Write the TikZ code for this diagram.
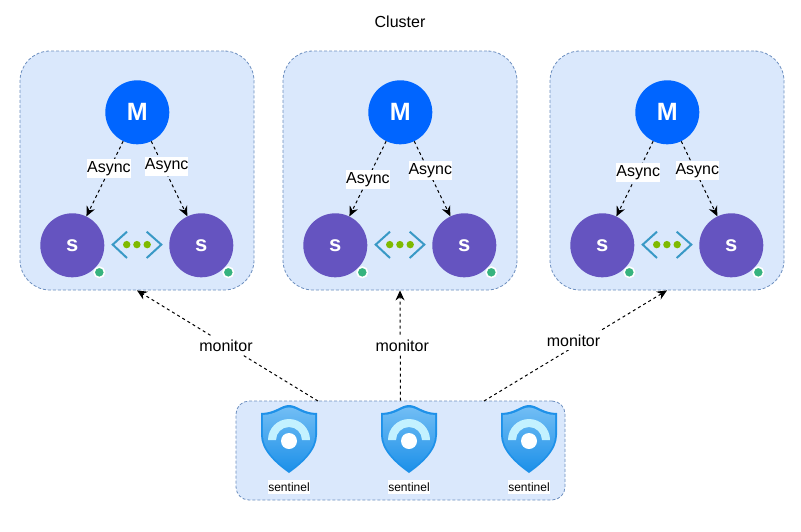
\documentclass[tikz,border=0pt]{standalone}
\usepackage{fontspec}
\setmainfont{Liberation Sans}
\usetikzlibrary{arrows.meta}

\definecolor{panelfill}{HTML}{DAE8FC}
\definecolor{paneldraw}{HTML}{6C8EBF}
\definecolor{masterblue}{HTML}{0065FF}
\definecolor{slavepurple}{HTML}{6554C0}
\definecolor{statusgreen}{HTML}{36B37E}
\definecolor{chevronblue}{HTML}{3999C6}
\definecolor{dotgreen}{HTML}{7FBA00}
\definecolor{shielddark}{HTML}{1E91E9}
\definecolor{shieldlight}{HTML}{71BDF4}
\definecolor{bandlight}{HTML}{C3F1FF}

\tikzset{
	panelbox/.style={draw=paneldraw,fill=panelfill,dash pattern=on 3pt off 2pt,line width=.8pt,rounded corners=30pt,minimum width=234pt,minimum height=239pt},
	sentinelbox/.style={draw=paneldraw,fill=panelfill,dash pattern=on 3pt off 2pt,line width=.8pt,rounded corners=13pt,minimum width=329pt,minimum height=99pt},
	master/.style={circle,fill=masterblue,text=white,minimum size=64pt,inner sep=0pt,font=\fontsize{25}{25}\selectfont\bfseries},
	slave/.style={circle,fill=slavepurple,text=white,minimum size=64pt,inner sep=0pt,font=\fontsize{22}{22}\selectfont\bfseries},
	status/.style={circle,fill=statusgreen,draw=white,line width=1.6pt,minimum size=10.5pt,inner sep=0pt},
	async/.style={-{Stealth[length=10pt,width=9pt]},dash pattern=on 3pt off 3pt,line width=1pt},
	tag/.style={fill=white,inner sep=0pt,minimum height=19pt,font=\fontsize{16}{18}\selectfont},
	small tag/.style={fill=white,inner sep=0pt,minimum height=14pt,font=\fontsize{12}{14}\selectfont},
	chevron/.style={draw=chevronblue,line width=2pt},
	syncdot/.style={circle,fill=dotgreen,minimum size=7.4pt,inner sep=0pt},
}

\newcommand{\shieldoutline}{(0,35) .. controls (8,35) and (14,27) .. (28,27) -- (28,5) .. controls (28,-10) and (14,-23) .. (0,-33) .. controls (-14,-23) and (-28,-10) .. (-28,5) -- (-28,27) .. controls (-14,27) and (-8,35) .. (0,35) -- cycle}

\begin{document}
\begin{tikzpicture}[x=1pt,y=-1pt]
\useasboundingbox[fill=white] (0,0) rectangle (801,531);

\node[font=\fontsize{16}{18}\selectfont] (title) at (400,22) {Cluster};

% the three groups
\foreach \i/\dx/\posa/\posb/\sha/\shb in {1/0/.36/.33/-1/3.5,2/263/.51/.39/.5/2,3/530/.42/.39/.5/2}{
	\node[panelbox] (panel\i) at (137+\dx,170.5) {};
	\node[master] (m\i) at (137.3+\dx,112.3) {M};
	\node[slave] (sa\i) at (72.3+\dx,245.3) {s};
	\node[slave] (sb\i) at (201.3+\dx,245.3) {s};
	\node[status] (stata\i) at (99.3+\dx,272.3) {};
	\node[status] (statb\i) at (228.3+\dx,272.3) {};
	\draw[async] (m\i) -- node[tag,pos=\posa,xshift=\sha pt] (asynca\i) {Async} (sa\i);
	\draw[async] (m\i) -- node[tag,pos=\posb,xshift=\shb pt] (asyncb\i) {Async} (sb\i);
	\draw[chevron] (127+\dx,231.7) -- (112.7+\dx,244.6) -- (127+\dx,258);
	\draw[chevron] (146.7+\dx,231.7) -- (161.3+\dx,244.6) -- (146.7+\dx,258);
	\foreach \px in {126.7,136.9,147.2}{
		\node[syncdot] at (\px+\dx,244.6) {};
	}
}

% sentinels
\node[sentinelbox] (sentinels) at (400.5,450.5) {};
\foreach \i/\sx in {1/289,2/409,3/529}{
	\begin{scope}[shift={(\sx,440)},x=1pt,y=1pt]
	\fill[shielddark] \shieldoutline;
	\begin{scope}[scale=.93]
	\shade[top color=shieldlight,bottom color=shielddark] \shieldoutline;
	\end{scope}
	\fill[bandlight] (-21,0) arc (180:0:21) -- (13,0) arc (0:180:13) -- cycle;
	\fill[white] (0,-1) circle (8);
	\end{scope}
	\node[small tag] (sent\i) at (\sx,487) {sentinel};
}

% monitor links
\coordinate (mona) at (318,401);
\coordinate (monb) at (484,401);
\draw[async] (mona) -- node[tag,pos=.5,xshift=-1.5pt] (labela) {monitor} (panel1.south);
\draw[async] (sentinels.north) -- node[tag,pos=.5,xshift=2pt] (labelb) {monitor} (panel2.south);
\draw[async] (monb) -- node[tag,pos=.5,xshift=-2pt,yshift=5pt] (labelc) {monitor} (panel3.south);
\end{tikzpicture}
\end{document}
